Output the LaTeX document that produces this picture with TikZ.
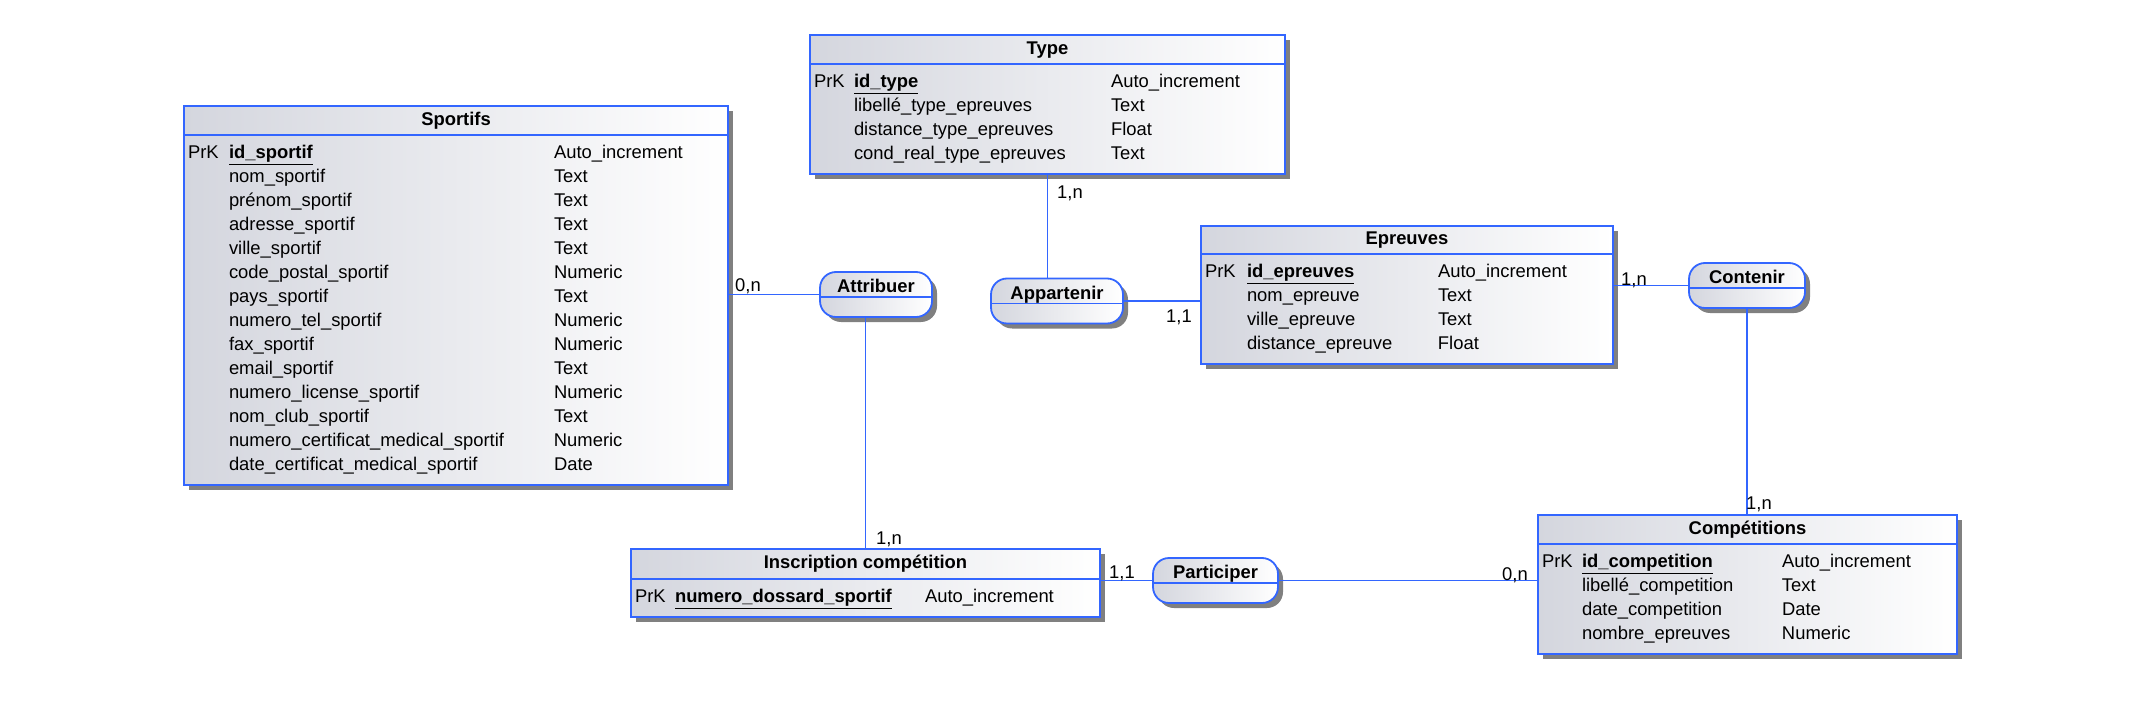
\documentclass[tikz,border=0pt]{standalone}
\usepackage{fontspec}
\setmainfont{Liberation Sans}
\usetikzlibrary{positioning, shadows, calc}
\definecolor{erblue}{RGB}{51,102,255}
\definecolor{erfill}{RGB}{212,214,222}
\definecolor{ershadow}{RGB}{128,128,128}
\newcommand{\PK}[1]{\underline{\textbf{#1}}}
\newcommand{\erfont}{\fontsize{18.4}{24}\selectfont}
\tikzset{
    eshade/.style={left color=erfill, right color=white},
    eshadow/.style={drop shadow={shadow xshift=5pt, shadow yshift=-5pt, fill=ershadow, opacity=1}},
    ehead/.style={draw=erblue, line width=1.8pt, eshade, eshadow, font=\erfont\bfseries, anchor=north west,
      inner sep=0pt, outer sep=0pt, text height=13.2pt, text depth=3.9pt},
    ebody/.style={draw=erblue, line width=1.8pt, eshade, eshadow, inner xsep=4pt, inner ysep=7pt,
      outer sep=0pt, align=left},
    rel/.style={draw=erblue, line width=1.8pt, rounded corners=16pt, eshade, eshadow, font=\erfont\bfseries,
      inner sep=0pt, outer sep=0pt, text height=20.6pt, text depth=24.4pt},
    link/.style={draw=erblue, line width=1.8pt},
    card/.style={inner sep=0pt, anchor=base},
}

\begin{document}
\begin{tikzpicture}[x=1pt, y=-1pt, font=\erfont]
    \useasboundingbox (0,0) rectangle (2133,711);

    \node[ehead, minimum width=544pt, minimum height=29pt] (sportifs) at (184,106) {Sportifs};
    \node[ebody, text width=536pt, below=0pt of sportifs] (sportifs-b) {%
      \begin{tabular}{@{}p{41pt}@{}p{325pt}@{}l@{}}
        PrK & \PK{id\_sportif} & Auto\_increment\\
        & nom\_sportif & Text\\
        & prénom\_sportif & Text\\
        & adresse\_sportif & Text\\
        & ville\_sportif & Text\\
        & code\_postal\_sportif & Numeric\\
        & pays\_sportif & Text\\
        & numero\_tel\_sportif & Numeric\\
        & fax\_sportif & Numeric\\
        & email\_sportif & Text\\
        & numero\_license\_sportif & Numeric\\
        & nom\_club\_sportif & Text\\
        & numero\_certificat\_medical\_sportif & Numeric\\
        & date\_certificat\_medical\_sportif & Date
      \end{tabular}\\[1pt]};

    \node[ehead, minimum width=475pt, minimum height=29pt] (type) at (810,35) {Type};
    \node[ebody, text width=467pt, below=0pt of type] (type-b) {%
      \begin{tabular}{@{}p{40pt}@{}p{257pt}@{}l@{}}
        PrK & \PK{id\_type} & Auto\_increment\\
        & libellé\_type\_epreuves & Text\\
        & distance\_type\_epreuves & Float\\
        & cond\_real\_type\_epreuves & Text
      \end{tabular}\\[1pt]};

    \node[ehead, minimum width=412pt, minimum height=28pt] (epreuves) at (1201,226) {Epreuves};
    \node[ebody, text width=404pt, below=0pt of epreuves] (epreuves-b) {%
      \begin{tabular}{@{}p{42pt}@{}p{191pt}@{}l@{}}
        PrK & \PK{id\_epreuves} & Auto\_increment\\
        & nom\_epreuve & Text\\
        & ville\_epreuve & Text\\
        & distance\_epreuve & Float
      \end{tabular}\\[1pt]};

    \node[ehead, minimum width=469pt, minimum height=30pt] (inscription) at (631,549) {Inscription compétition};
    \node[ebody, text width=461pt, below=0pt of inscription] (inscription-b) {%
      \begin{tabular}{@{}p{40pt}@{}p{250pt}@{}l@{}}
        PrK & \PK{numero\_dossard\_sportif} & Auto\_increment
      \end{tabular}\\[1pt]};

    \node[ehead, minimum width=419pt, minimum height=29pt] (competitions) at (1538,515) {Compétitions};
    \node[ebody, text width=411pt, below=0pt of competitions] (competitions-b) {%
      \begin{tabular}{@{}p{40pt}@{}p{200pt}@{}l@{}}
        PrK & \PK{id\_competition} & Auto\_increment\\
        & libellé\_competition & Text\\
        & date\_competition & Date\\
        & nombre\_epreuves & Numeric
      \end{tabular}\\[1pt]};

    \node[rel, minimum width=112pt] (attribuer) at (876,294.5) {Attribuer};
    \node[rel, minimum width=132pt] (appartenir) at (1057,301) {Appartenir};
    \node[rel, minimum width=116pt] (contenir) at (1747,285.5) {Contenir};
    \node[rel, minimum width=125pt] (participer) at (1215.5,580.5) {Participer};
    \foreach \r in {attribuer, appartenir, contenir, participer}
      \draw[link] ([yshift=-25pt]\r.north west) -- ([yshift=-25pt]\r.north east);

    \draw[link] (attribuer.west) -- (attribuer.west -| sportifs-b.east);
    \draw[link] (inscription.north) -- (inscription.north |- attribuer.south);
    \draw[link] (type-b.south) -- (type-b.south |- appartenir.north);
    \draw[link] (appartenir.east) -- (appartenir.east -| epreuves-b.west);
    \draw[link] (contenir.west) -- (contenir.west -| epreuves-b.east);
    \draw[link] (contenir.south) -- (contenir.south |- competitions.north);
    \draw[link] (participer.west) -- (participer.west -| inscription-b.east);
    \draw[link] (participer.east) -- (participer.east -| competitions-b.west);

    \node[card] (c1) at (748,291) {0,n};
    \node[card] (c2) at (889,544) {1,n};
    \node[card] (c3) at (1070,199) {1,n};
    \node[card] (c4) at (1179,323) {1,1};
    \node[card] (c5) at (1634,286) {1,n};
    \node[card] (c6) at (1759,509) {1,n};
    \node[card] (c7) at (1122,578) {1,1};
    \node[card] (c8) at (1515,580) {0,n};
\end{tikzpicture}
\end{document}
